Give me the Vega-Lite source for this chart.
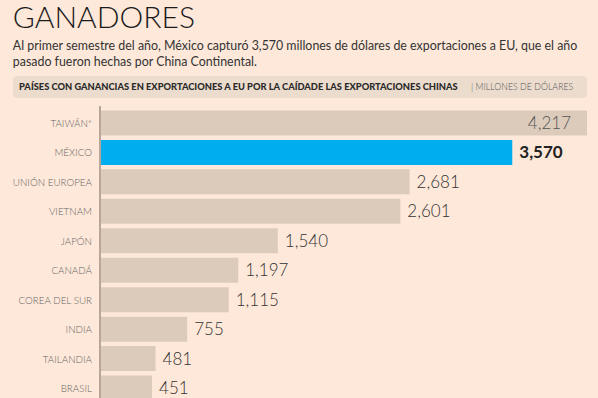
{
  "$schema": "https://vega.github.io/schema/vega-lite/v6.json",
  "background": "#fee8d9",
  "padding": {"left": 12, "right": 12, "top": 3, "bottom": 0},
  "config": {"view": {"stroke": null}, "font": "Lato"},
  "title": {
    "text": "GANADORES",
    "subtitle": ["Al primer semestre del año, México capturó 3,570 millones de dólares de exportaciones a EU, que el año", "pasado fueron hechas por China Continental."],
    "anchor": "start",
    "font": "Lato",
    "fontSize": 30,
    "fontWeight": 300,
    "color": "#1a1a1a",
    "subtitleFont": "Lato",
    "subtitleFontSize": 12.4,
    "subtitleFontWeight": 400,
    "subtitleColor": "#333333",
    "subtitlePadding": 6,
    "subtitleLineHeight": 16,
    "offset": 8
  },
  "spacing": 7,
  "vconcat": [
    {
      "width": 574,
      "height": 22,
      "view": {"fill": "#ecdccd", "cornerRadius": 4, "stroke": null},
      "data": {"values": [
        {"parte": "principal", "texto": "PAÍSES CON GANANCIAS EN EXPORTACIONES A EU POR LA CAÍDADE LAS EXPORTACIONES CHINAS"},
        {"parte": "unidad", "texto": "| MILLONES DE DÓLARES"}
      ]},
      "layer": [
        {
          "transform": [{"filter": "datum.parte === 'principal'"}],
          "mark": {"type": "text", "align": "left", "baseline": "middle", "font": "Lato", "fontSize": 9.3, "fontWeight": 900, "color": "#2a2a2a"},
          "encoding": {"x": {"value": 6}, "text": {"field": "texto"}}
        },
        {
          "transform": [{"filter": "datum.parte === 'unidad'"}],
          "mark": {"type": "text", "align": "left", "baseline": "middle", "font": "Lato", "fontSize": 8.8, "fontWeight": 300, "color": "#555555"},
          "encoding": {"x": {"value": 458}, "text": {"field": "texto"}}
        }
      ]
    },
    {
      "width": 574,
      "height": 299,
      "data": {"values": [
        {"pais": "TAIWÁN*", "valor": 4217},
        {"pais": "MÉXICO", "valor": 3570},
        {"pais": "UNIÓN EUROPEA", "valor": 2681},
        {"pais": "VIETNAM", "valor": 2601},
        {"pais": "JAPÓN", "valor": 1540},
        {"pais": "CANADÁ", "valor": 1197},
        {"pais": "COREA DEL SUR", "valor": 1115},
        {"pais": "INDIA", "valor": 755},
        {"pais": "TAILANDIA", "valor": 481},
        {"pais": "BRASIL", "valor": 451}
      ]},
      "encoding": {
        "y": {"field": "pais", "type": "nominal", "sort": null, "axis": null, "scale": {"paddingInner": 0.15, "paddingOuter": 0.15}}
      },
      "layer": [
        {
          "mark": {"type": "bar"},
          "encoding": {
            "x": {"field": "valor", "type": "quantitative", "axis": null, "scale": {"domain": [-753, 4217], "nice": false, "zero": false}},
            "color": {"condition": {"test": "datum.pais === 'MÉXICO'", "value": "#00adee"}, "value": "#dccbbb"}
          }
        },
        {
          "mark": {"type": "rule", "color": "#b8a898", "strokeWidth": 1},
          "encoding": {"x": {"datum": 0, "type": "quantitative"}, "y": null}
        },
        {
          "mark": {"type": "text", "align": "right", "baseline": "middle", "dx": -8, "dy": 1, "font": "Lato", "fontSize": 9.8, "fontWeight": 300, "color": "#666666"},
          "encoding": {"x": {"datum": 0, "type": "quantitative"}, "text": {"field": "pais"}}
        },
        {
          "transform": [{"filter": "datum.pais !== 'TAIWÁN*' && datum.pais !== 'MÉXICO'"}],
          "mark": {"type": "text", "align": "left", "baseline": "middle", "dx": 7, "dy": 1, "font": "Lato", "fontSize": 17, "fontWeight": 300, "color": "#333333"},
          "encoding": {"x": {"field": "valor", "type": "quantitative"}, "text": {"field": "valor", "format": ","}}
        },
        {
          "transform": [{"filter": "datum.pais === 'TAIWÁN*'"}],
          "mark": {"type": "text", "align": "right", "baseline": "middle", "dx": -16, "dy": 1, "font": "Lato", "fontSize": 17, "fontWeight": 300, "color": "#555555"},
          "encoding": {"x": {"field": "valor", "type": "quantitative"}, "text": {"field": "valor", "format": ","}}
        },
        {
          "transform": [{"filter": "datum.pais === 'MÉXICO'"}],
          "mark": {"type": "text", "align": "left", "baseline": "middle", "dx": 7, "dy": 1, "font": "Lato", "fontSize": 17, "fontWeight": "bold", "color": "#222222"},
          "encoding": {"x": {"field": "valor", "type": "quantitative"}, "text": {"field": "valor", "format": ","}}
        }
      ]
    }
  ]
}
